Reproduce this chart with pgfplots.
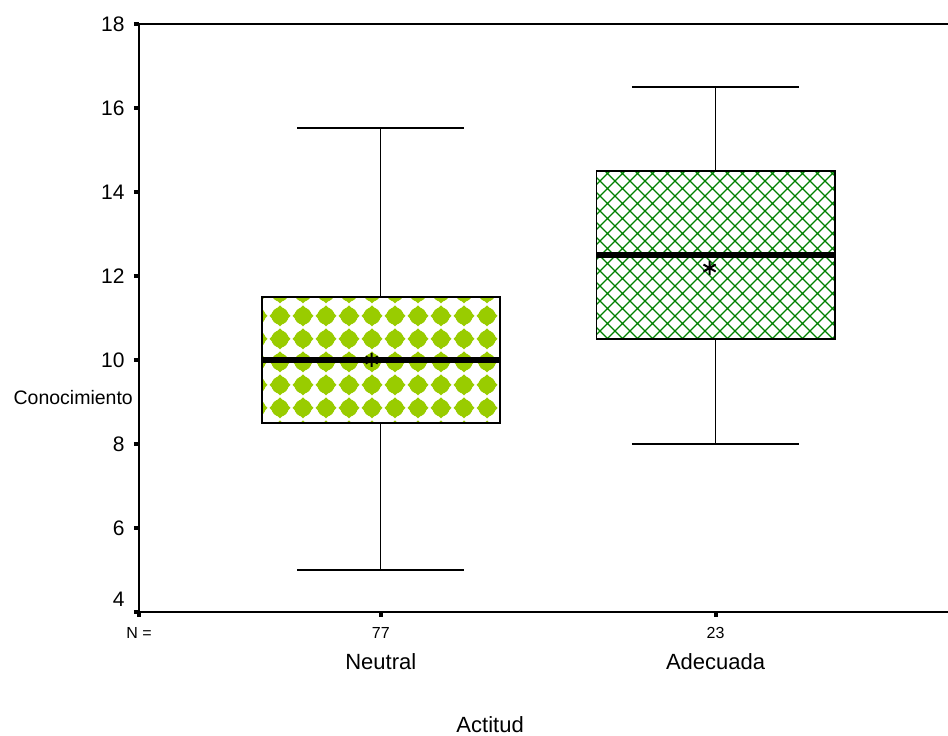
\documentclass[border=0pt]{standalone}
\usepackage{fontspec}
\setmainfont{Liberation Sans}
\usepackage{pgfplots}
\pgfplotsset{compat=1.18}
\usetikzlibrary{patterns}
\definecolor{lgreen}{HTML}{99CC00}
\definecolor{dgreen}{HTML}{008000}

\pgfdeclarepatternformonly{blobs}{\pgfqpoint{-7.5pt}{-5.5pt}}{\pgfqpoint{15.5pt}{17.5pt}}{\pgfqpoint{23pt}{23pt}}{%
  \pgfpathmoveto{\pgfqpoint{4pt}{-4.5pt}}%
  \pgfpathlineto{\pgfqpoint{14.5pt}{6pt}}%
  \pgfpathlineto{\pgfqpoint{4pt}{16.5pt}}%
  \pgfpathlineto{\pgfqpoint{-6.5pt}{6pt}}%
  \pgfpathclose
  \pgfusepath{fill}%
  \pgfpathcircle{\pgfqpoint{4pt}{6pt}}{8.6pt}%
  \pgfusepath{fill}%
}
\pgfdeclarepatternformonly{diagx}{\pgfqpoint{-1pt}{-1pt}}{\pgfqpoint{16pt}{16pt}}{\pgfqpoint{15pt}{15pt}}{%
  \pgfsetlinewidth{1.1pt}%
  \pgfpathmoveto{\pgfqpoint{0pt}{0pt}}\pgfpathlineto{\pgfqpoint{15pt}{15pt}}%
  \pgfpathmoveto{\pgfqpoint{0pt}{15pt}}\pgfpathlineto{\pgfqpoint{15pt}{0pt}}%
  \pgfusepath{stroke}%
}

\begin{document}
\begin{tikzpicture}
\begin{axis}[
  at={(139pt,124pt)}, anchor=south west,
  width=809pt, height=588pt, scale only axis,
  xmin=0.278, xmax=2.694, ymin=4, ymax=18,
  axis x line=box, axis y line=left,
  axis line style={line width=2pt, -},
  /pgf/number format/assume math mode=true,
  ytick={4,6,...,18},
  yticklabels={\raisebox{5pt}[0pt][0pt]{4},6,8,10,12,14,16,18},
  xtick={0.278,1,2}, xticklabels={N =,77,23},
  extra x ticks={1,2},
  extra x tick labels={\fontsize{22}{26}\selectfont Neutral,\fontsize{22}{26}\selectfont Adecuada},
  extra x tick style={major tick length=0pt, tick label style={yshift=-31pt}},
  tick align=outside, major tick length=5pt,
  every tick/.style={black, line width=4pt},
  xtick pos=bottom, ytick pos=left,
  yticklabel style={font=\fontsize{21}{25}\selectfont, xshift=-6pt},
  xticklabel style={font=\fontsize{16}{19}\selectfont, yshift=-7pt},
  ylabel={Conocimiento},
  ylabel style={rotate=-90, at={(axis description cs:-0.0074,0.364)}, anchor=east, inner sep=0pt, font=\fontsize{19.5}{22}\selectfont},
  xlabel={Actitud},
  xlabel style={at={(axis description cs:0.434,-0.192)}, anchor=center, font=\fontsize{22}{26}\selectfont},
]
% Neutral (n = 77)
\addplot[black, line width=1.4pt] coordinates {(1,11.5) (1,15.52)};
\addplot[black, line width=1.8pt] coordinates {(0.75,15.52) (1.25,15.52)};
\addplot[black, line width=1.4pt] coordinates {(1,8.5) (1,5)};
\addplot[black, line width=1.8pt] coordinates {(0.75,5) (1.25,5)};
\addplot[draw=black, line width=1.8pt, line join=miter, pattern=blobs, pattern color=lgreen]
  coordinates {(0.6445,8.5) (1.3555,8.5) (1.3555,11.5) (0.6445,11.5)} -- cycle;
\addplot[black, line width=5.5pt] coordinates {(0.6445,10) (1.3555,10)};
% Adecuada (n = 23)
\addplot[black, line width=1.4pt] coordinates {(2,14.5) (2,16.5)};
\addplot[black, line width=1.8pt] coordinates {(1.75,16.5) (2.25,16.5)};
\addplot[black, line width=1.4pt] coordinates {(2,10.5) (2,8)};
\addplot[black, line width=1.8pt] coordinates {(1.75,8) (2.25,8)};
\addplot[draw=black, line width=1.8pt, line join=miter, pattern=diagx, pattern color=dgreen]
  coordinates {(1.6445,10.5) (2.3555,10.5) (2.3555,14.5) (1.6445,14.5)} -- cycle;
\addplot[black, line width=5.5pt] coordinates {(1.6445,12.5) (2.3555,12.5)};
% means
\addplot[only marks, mark=asterisk, mark size=7pt, mark options={line width=2pt, black}] coordinates {(0.973,10) (1.982,12.19)};
\end{axis}
\pgfresetboundingbox
\useasboundingbox (0,0) rectangle (948pt,736pt);
\end{tikzpicture}
\end{document}
